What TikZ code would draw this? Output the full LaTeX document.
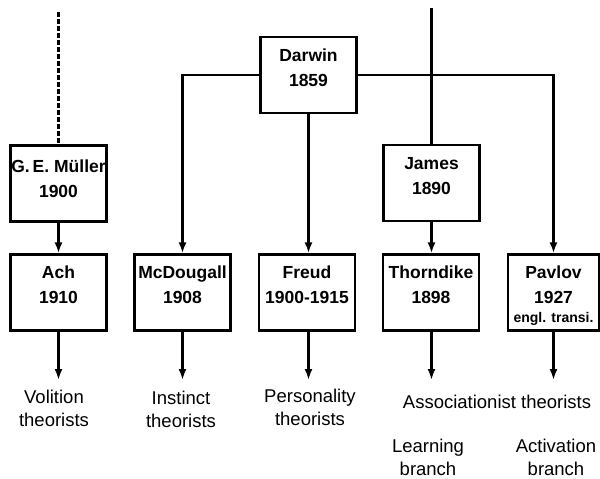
\documentclass[tikz,border=0pt]{standalone}
\usepackage{fontspec}
\setmainfont{Liberation Sans}
\usetikzlibrary{arrows.meta}

% box contents: lines centred, first baseline raised by #1 above the box centre
\newcommand\boxlines[2][14.5pt]{\raisebox{#1}[0pt][0pt]{\begin{tabular}[t]{@{}c@{}}#2\end{tabular}}}

\begin{document}
\begin{tikzpicture}[x=1pt,y=-1pt,
  line/.style={line width=2.2pt},
  arrow/.style={line, -{Latex[length=11pt,width=8pt]}},
  dashline/.style={line width=2.8pt, dash pattern=on 5pt off 2pt},
  namebox/.style={draw, line width=2.2pt, minimum width=96pt, minimum height=76pt,
    inner sep=0pt, font=\bfseries\fontsize{17.5}{25.5}\selectfont},
  school/.style={align=center, inner sep=0pt, font=\fontsize{18.5}{23}\selectfont}]

\useasboundingbox (0,0) rectangle (600,479);

% theorists and their key works
\node[namebox] (muller) at (58.5,183.5) {\boxlines[11.5pt]{G.\,E. Müller\\1900}};
\node[namebox] (darwin) at (308.5,75) {\boxlines[14pt]{Darwin\\1859}};
\node[namebox] (james) at (431.5,183) {\boxlines[14pt]{James\\1890}};
\node[namebox] (ach) at (58.5,292.5) {\boxlines{Ach\\1910}};
\node[namebox] (mcdougall) at (182.5,292.5) {\boxlines{McDougall\\1908}};
\node[namebox] (freud) at (307,292.5) {\boxlines{Freud\\1900-1915}};
\node[namebox] (thorndike) at (431,292.5) {\boxlines{Thorndike\\1898}};
\node[namebox, minimum width=91pt] (pavlov) at (553.5,292.5)
  {\boxlines{Pavlov\\1927\\[-6.5pt]{\fontsize{14}{16}\selectfont engl. transi.}}};

% resulting schools
\node[school] (volition) at (54,408) {Volition\\theorists};
\node[school] (instinct) at (181,409) {Instinct\\theorists};
\node[school] (personality) at (310,407) {Personality\\theorists};
\node[school] (associationist) at (497,402) {Associationist theorists};
\node[school] (learning) at (428,457) {Learning\\branch};
\node[school] (activation) at (556,457) {Activation\\branch};

% free ends of the lines
\coordinate (mullertop) at (58.5,12);
\coordinate (jamestop) at (431.5,8);
\coordinate (achout) at (58.5,380);
\coordinate (mcdout) at (182.5,380);
\coordinate (freudout) at (308.5,380);
\coordinate (thorndikeout) at (431.5,380);
\coordinate (pavlovout) at (553.5,380);

% lines of descent
\draw[dashline] (mullertop) -- (muller.north);
\draw[line] (jamestop) -- (james.north);
\draw[arrow] (muller.south) -- (ach.north);
\draw[arrow] (james.south) -- (james.south |- thorndike.north);
\draw[arrow] (darwin.west) -| (mcdougall.north);
\draw[arrow] (darwin.south) -- (darwin.south |- freud.north);
\draw[arrow] (darwin.east) -| (pavlov.north);

% into the schools
\draw[arrow] (ach.south) -- (achout);
\draw[arrow] (mcdougall.south) -- (mcdout);
\draw[arrow] (freud.south -| freudout) -- (freudout);
\draw[arrow] (thorndike.south -| thorndikeout) -- (thorndikeout);
\draw[arrow] (pavlov.south) -- (pavlovout);
\end{tikzpicture}
\end{document}
